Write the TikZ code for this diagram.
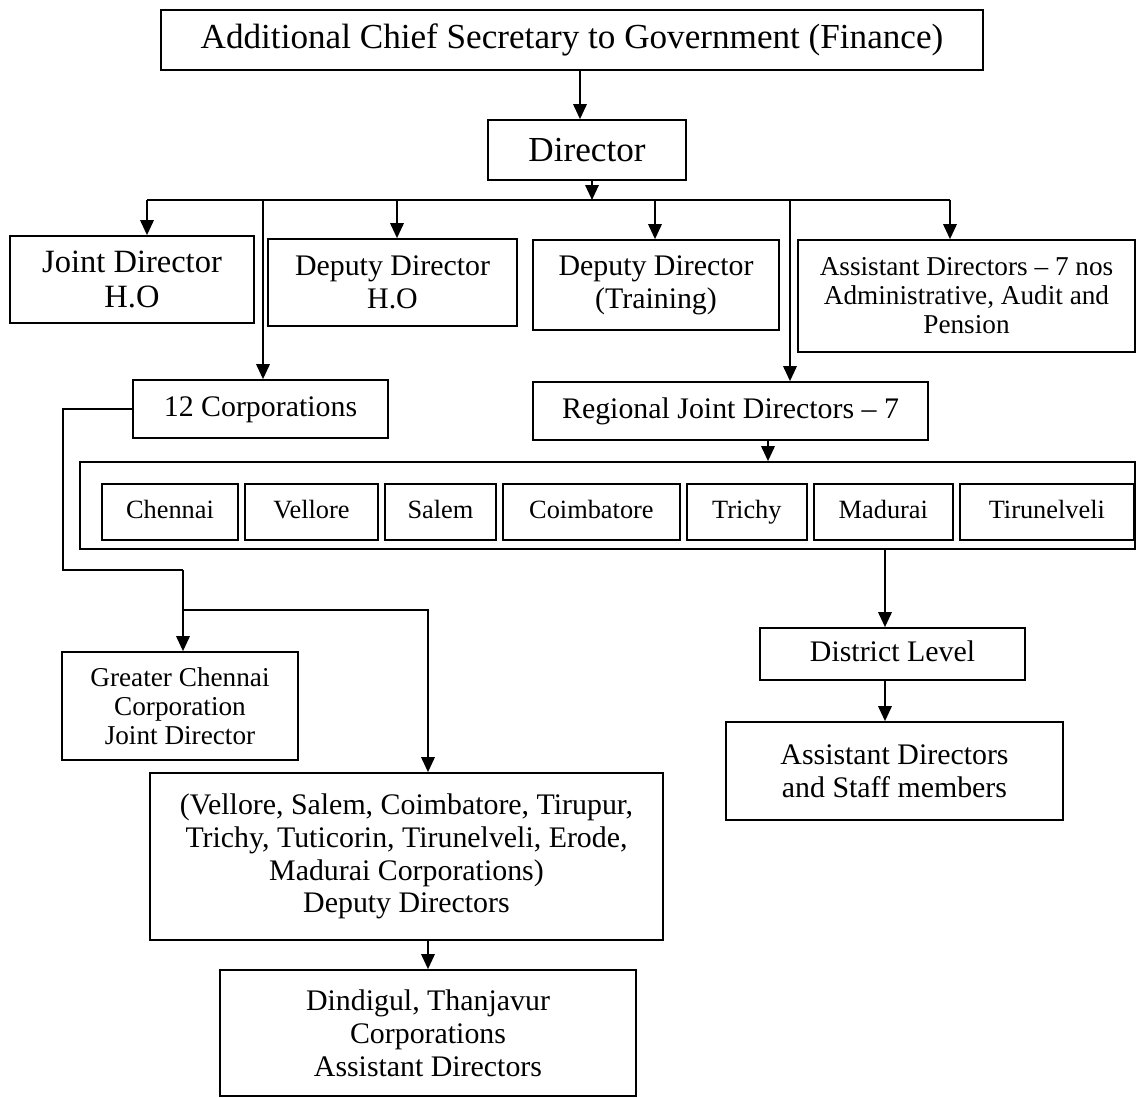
\documentclass[tikz,border=0pt]{standalone}
\usepackage{fontspec}
\setmainfont{Liberation Serif}
\usetikzlibrary{arrows.meta,positioning,calc}

\begin{document}
\begin{tikzpicture}[x=0.02cm,y=-0.02cm,
  office/.style={draw,line width=1pt,align=center,inner sep=2pt,
    font=\fontsize{17}{18.7}\selectfont},
  oneline/.style={office,text height=12pt,text depth=4pt},
  topoffice/.style={office,font=\fontsize{20}{22}\selectfont},
  branch/.style={office,font=\fontsize{18.5}{19.5}\selectfont},
  smalloffice/.style={office,font=\fontsize{15.5}{16.5}\selectfont},
  cityunit/.style={office,minimum height=1.12cm,outer sep=0pt,
    text height=10.5pt,text depth=3.5pt,font=\fontsize{15}{17}\selectfont},
  handoff/.style={-{Triangle[length=3mm,width=2.7mm]},line width=1pt},
  connector/.style={line width=1pt}
]
\useasboundingbox (0,0) rectangle (1136,1098);

% Head office and the branches under the Director.
\node[topoffice,minimum width=16.44cm,minimum height=1.2cm] (acs) at (572,40)
  {Additional Chief Secretary to Government (Finance)};
\node[topoffice,minimum width=3.96cm,minimum height=1.2cm] (dir) at (587,150)
  {Director};
\node[branch,minimum width=4.88cm,minimum height=1.74cm] (jdho) at (132,279.5)
  {Joint Director\\H.O};
\node[office,minimum width=4.98cm,minimum height=1.74cm] (ddho) at (392.5,282.5)
  {Deputy Director\\H.O};
\node[office,minimum width=4.92cm,minimum height=1.8cm] (ddtr) at (656,285)
  {Deputy Director\\(Training)};
\node[smalloffice,minimum width=6.74cm,minimum height=2.24cm] (adir) at (966.5,296)
  {Assistant Directors -- 7 nos\\Administrative, Audit and\\Pension};
\node[oneline,minimum width=5.1cm,minimum height=1.16cm] (corp) at (260.5,409)
  {12 Corporations};
\node[oneline,minimum width=7.9cm,minimum height=1.16cm] (rjd) at (730.5,411)
  {Regional Joint Directors -- 7};

\coordinate (bus) at (592,200);
\draw[handoff] (acs.south -| 580,0) -- (dir.north -| 580,0);
\draw[handoff] (dir.south -| bus) -- (bus);
\draw[connector] (bus -| 147,0) -- (bus -| 950,0);
\foreach \office/\x in {jdho/147,ddho/397,ddtr/655,adir/950,corp/263,rjd/790}
  \draw[handoff] (bus -| \x,0) -- (\x,0 |- \office.north);

% Seven regions in one frame.
\node[draw,line width=1pt,minimum width=21.1cm,minimum height=1.74cm]
  (region) at (607.5,505.5) {};
\node[cityunit,minimum width=2.72cm] (Chennai) at (170,512) {Chennai};
\foreach \city/\boxw [remember=\city as \prev (initially Chennai)] in
  {Vellore/2.66,Salem/2.22,Coimbatore/3.54,Trichy/2.4,Madurai/2.78,Tirunelveli/3.48}
  \node[cityunit,minimum width=\boxw cm,right=0.14cm of \prev] (\city) {\city};
\draw[handoff] (rjd.south -| 768,0) -- (region.north -| 768,0);

% Corporations side.
\node[smalloffice,minimum width=4.72cm,minimum height=2.16cm] (gcc) at (180,706)
  {Greater Chennai\\Corporation\\Joint Director};
\node[office,minimum width=10.26cm,minimum height=3.34cm] (ddc) at (406.5,856.5)
  {(Vellore, Salem, Coimbatore, Tirupur,\\Trichy, Tuticorin, Tirunelveli, Erode,\\
   Madurai Corporations)\\Deputy Directors};
\node[office,minimum width=8.32cm,minimum height=2.52cm] (asc) at (428,1033)
  {Dindigul, Thanjavur\\Corporations\\Assistant Directors};

\coordinate (bend) at (63,570);
\coordinate (gccdrop) at (183,570);
\coordinate (ddcsplit) at (183,610);
\coordinate (ddcdrop) at (428,610);
\draw[connector] (corp.west) -| (bend) -- (gccdrop);
\draw[handoff] (gccdrop) -- (gccdrop |- gcc.north);
\draw[handoff] (ddcsplit) -- (ddcdrop) -- (ddcdrop |- ddc.north);
\draw[handoff] (ddcdrop |- ddc.south) -- (ddcdrop |- asc.north);

% District side.
\node[oneline,minimum width=5.3cm,minimum height=1.04cm] (dist) at (892.5,654)
  {District Level};
\node[office,minimum width=6.74cm,minimum height=1.96cm] (staff) at (894.5,771)
  {Assistant Directors\\and Staff members};

\coordinate (distdrop) at (885,590);
\draw[handoff] (distdrop |- region.south) -- (distdrop |- dist.north);
\draw[handoff] (distdrop |- dist.south) -- (distdrop |- staff.north);
\end{tikzpicture}
\end{document}
